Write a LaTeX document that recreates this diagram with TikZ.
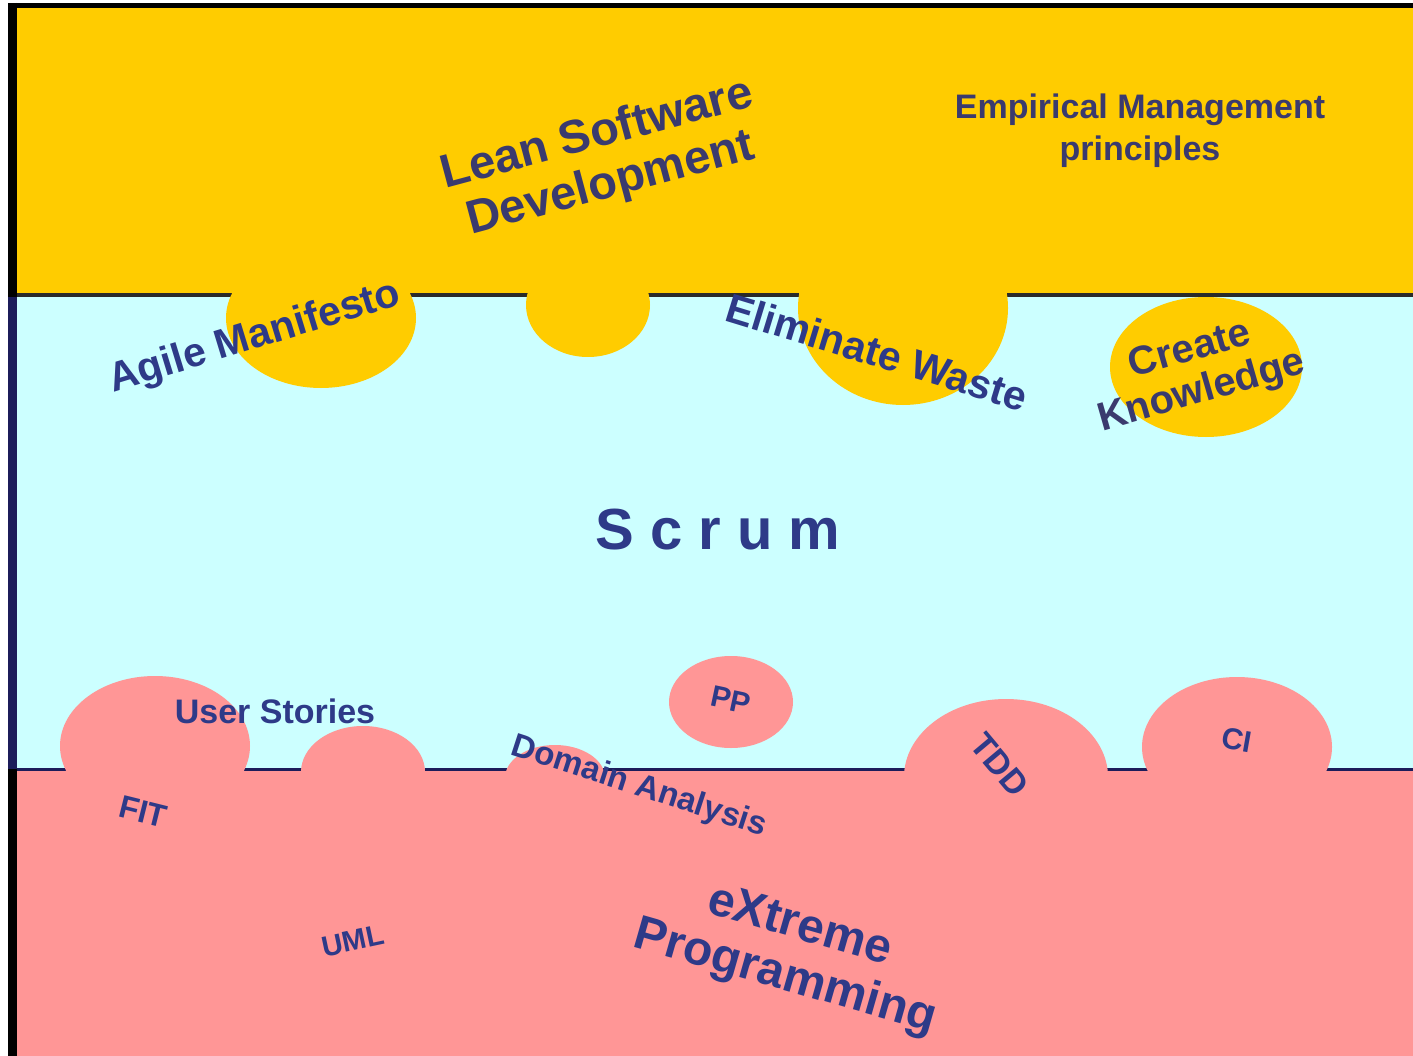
\documentclass[tikz,border=0pt]{standalone}
\usepackage{fontspec}
\setmainfont{Liberation Sans}
\definecolor{yellowc}{HTML}{FFCC00}
\definecolor{cyanc}{HTML}{CCFFFF}
\definecolor{pinkc}{HTML}{FF9696}
\definecolor{txtA}{HTML}{3A3A6E}
\definecolor{txtB}{HTML}{2E3A88}
\definecolor{navyline}{HTML}{1C1C5A}
\definecolor{darkline}{HTML}{2A2A2A}
\begin{document}
\begin{tikzpicture}[x=1pt,y=-1pt,
  lbl/.style={text=txtB, align=center, inner sep=0pt},
  lbly/.style={text=txtA, align=center, inner sep=0pt},
  ybump/.style={fill=yellowc, draw=none},
  pbump/.style={fill=pinkc, draw=none}]
\useasboundingbox (0,0) rectangle (1413,1056);
\fill[white] (0,0) rectangle (1413,1056);
% bands
\fill[yellowc] (12,5) rectangle (1413,295);
\fill[cyanc] (12,295) rectangle (1413,769);
\fill[pinkc] (12,769) rectangle (1413,1056);
% standalone ellipse under the top divider
\fill[yellowc] (1206,367) ellipse [x radius=96, y radius=70];
% dividers
\draw[darkline, line width=3.5pt] (12,295) -- (1413,295);
\draw[navyline, line width=3pt] (12,769) -- (1413,769);
% yellow bumps
\fill[ybump] (321,318) ellipse [x radius=95, y radius=70];
\fill[ybump] (588,305) ellipse [x radius=62, y radius=52];
\fill[ybump] (903,308) ellipse [x radius=105, y radius=97];
% pink bumps
\fill[pbump] (155,746) ellipse [x radius=95, y radius=70];
\fill[pbump] (363,772) ellipse [x radius=62, y radius=46];
\fill[pbump] (555,778) ellipse [x radius=50, y radius=33];
\fill[pbump] (731,702) ellipse [x radius=62, y radius=46];
\fill[pbump] (1006,777) ellipse [x radius=102, y radius=78];
\fill[pbump] (1237,747) ellipse [x radius=95, y radius=70];
% frame
\draw[black, line width=5pt] (8,5.5) -- (1413,5.5);
\draw[black, line width=8.5pt] (12.5,3) -- (12.5,1056);
\draw[navyline, line width=8.5pt] (12.5,297) -- (12.5,769);
% labels
\node[lbly, rotate=15, font=\fontsize{47}{51}\selectfont\bfseries] (lean) at (604,160) {Lean Software\\Development};
\node[lbly, font=\fontsize{34}{42}\selectfont\bfseries] (emp) at (1140,131) {Empirical Management\\principles};
\node[lbl, rotate=17, font=\fontsize{41}{46}\selectfont\bfseries] (agile) at (255,338) {Agile Manifesto};
\node[lbl, rotate=-17, font=\fontsize{41}{46}\selectfont\bfseries] (elim) at (877,352) {Eliminate Waste};
\node[lbly, rotate=16, font=\fontsize{40}{43}\selectfont\bfseries] (create) at (1196,372) {Create\\Knowledge};
\node[lbl, font=\fontsize{58}{62}\selectfont\bfseries] (scrum) at (718,530) {S c r u m};
\node[lbl, font=\fontsize{34}{38}\selectfont\bfseries] (us) at (275,711) {User Stories};
\node[lbl, rotate=-14, font=\fontsize{32}{36}\selectfont\bfseries] (fit) at (143,812) {FIT};
\node[lbl, rotate=-12, font=\fontsize{30}{34}\selectfont\bfseries] (pp) at (731,700) {PP};
\node[lbl, rotate=-18, font=\fontsize{33}{37}\selectfont\bfseries] (dom) at (639,787) {Domain Analysis};
\node[lbl, rotate=-50, font=\fontsize{34}{38}\selectfont\bfseries] (tdd) at (1000,765) {TDD};
\node[lbl, rotate=-10, font=\fontsize{30}{34}\selectfont\bfseries] (ci) at (1237,740) {CI};
\node[lbl, rotate=12, font=\fontsize{29}{33}\selectfont\bfseries] (uml) at (353,941) {UML};
\node[lbl, rotate=-16, font=\fontsize{48}{53}\selectfont\bfseries] (xp) at (792,953) {eXtreme\\Programming};
\end{tikzpicture}
\end{document}
